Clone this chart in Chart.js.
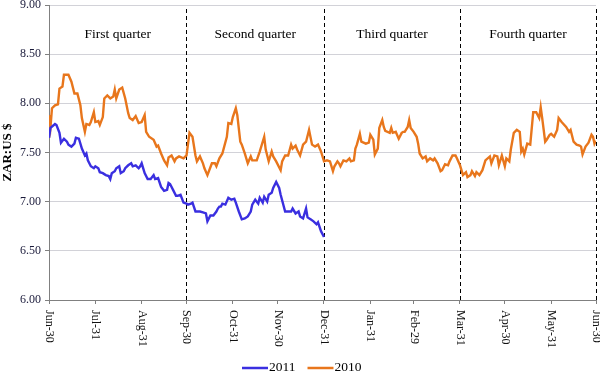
<!DOCTYPE html>
<html><head><meta charset="utf-8">
<script src="https://cdn.jsdelivr.net/npm/chart.js@4.4.1/dist/chart.umd.min.js"></script>
<style>html,body{margin:0;padding:0;background:#fff}#wrap{width:600px;height:373px}</style>
</head><body><div id="wrap"><canvas id="c" width="600" height="373"></canvas></div>
<script>
// X axis: days since Jun-30
const tickDays = [0,31,62,92,123,153,184,215,244,275,305,336,366];
const tickLabels = ['Jun-30','Jul-31','Aug-31','Sep-30','Oct-31','Nov-30','Dec-31','Jan-31','Feb-29','Mar-31','Apr-30','May-31','Jun-30'];
const quarterEnds = [92,184,275,366];
const quarterNames = ['First quarter','Second quarter','Third quarter','Fourth quarter'];
const seriesNames = ['2011','2010'];

const days2011 = [0,1,4,5,7,8,10,12,13,15,17,18,20,22,24,25,26,28,30,31,33,34,36,38,40,41,42,44,45,47,48,50,51,53,55,56,58,60,61,62,64,66,68,70,71,73,75,77,79,80,81,83,85,86,88,90,92,93,95,96,98,101,103,105,106,108,110,112,113,114,115,116,118,120,122,124,125,127,129,131,133,135,136,138,140,141,143,144,146,147,149,150,152,154,155,158,160,162,163,165,167,168,170,172,173,175,177,179,180,182,184];
const zar2011 = [7.65,7.75,7.79,7.78,7.70,7.60,7.64,7.61,7.58,7.56,7.59,7.65,7.64,7.54,7.47,7.49,7.42,7.36,7.34,7.36,7.34,7.30,7.29,7.27,7.26,7.23,7.29,7.31,7.34,7.36,7.29,7.31,7.34,7.37,7.39,7.36,7.37,7.34,7.36,7.39,7.29,7.23,7.23,7.27,7.23,7.24,7.15,7.11,7.12,7.19,7.18,7.12,7.06,7.06,7.07,6.99,6.98,6.97,6.98,6.99,6.90,6.90,6.89,6.88,6.80,6.86,6.86,6.90,6.93,6.95,6.95,6.98,6.97,7.04,7.02,7.03,6.99,6.90,6.82,6.83,6.85,6.90,6.97,7.02,6.98,7.04,6.99,7.05,7.00,7.07,7.09,7.14,7.20,7.14,7.07,6.90,6.90,6.90,6.93,6.88,6.90,6.85,6.83,6.93,6.84,6.82,6.80,6.77,6.79,6.70,6.64];

const days2010 = [0,1,2,4,6,7,9,10,13,15,17,19,21,22,24,25,27,28,30,31,33,34,36,37,39,41,43,44,45,47,49,51,53,54,56,58,60,62,64,65,67,70,72,73,75,77,79,80,82,84,85,87,90,92,94,96,98,99,101,103,104,106,109,111,112,114,116,119,120,122,123,125,126,128,129,131,133,135,136,139,141,144,145,147,149,150,152,155,156,158,160,162,163,165,166,168,170,172,174,176,178,180,182,184,186,188,190,191,193,194,195,197,199,201,202,204,205,206,208,209,212,214,215,217,218,220,221,223,224,225,228,229,230,232,234,236,237,238,240,241,242,244,246,247,248,250,252,253,255,257,258,260,262,263,265,267,268,270,272,273,275,277,279,280,282,283,285,286,288,290,292,295,296,298,300,301,303,305,306,308,309,311,313,315,316,317,318,320,322,324,326,328,329,330,332,333,335,336,338,340,341,343,346,348,349,351,353,355,356,357,359,361,363,364,365,366];
const zar2010 = [7.88,7.76,7.95,7.98,7.99,8.15,8.17,8.29,8.29,8.22,8.10,8.10,7.98,7.85,7.71,7.79,7.78,7.81,7.91,7.81,7.82,7.78,7.86,8.05,8.08,8.05,8.07,8.14,8.05,8.14,8.16,8.05,7.90,7.85,7.83,7.87,7.80,7.81,7.88,7.71,7.66,7.63,7.56,7.57,7.49,7.42,7.37,7.45,7.47,7.41,7.44,7.46,7.44,7.47,7.70,7.66,7.47,7.41,7.46,7.39,7.34,7.27,7.39,7.39,7.36,7.44,7.49,7.66,7.80,7.79,7.86,7.95,7.88,7.61,7.58,7.49,7.39,7.46,7.42,7.42,7.51,7.66,7.53,7.41,7.51,7.46,7.41,7.32,7.41,7.47,7.47,7.58,7.54,7.57,7.53,7.47,7.58,7.61,7.73,7.58,7.56,7.58,7.51,7.41,7.42,7.41,7.31,7.36,7.41,7.39,7.36,7.42,7.41,7.44,7.41,7.42,7.54,7.58,7.69,7.61,7.59,7.60,7.68,7.63,7.48,7.54,7.75,7.83,7.76,7.72,7.70,7.75,7.70,7.71,7.64,7.70,7.71,7.71,7.76,7.83,7.75,7.71,7.66,7.59,7.49,7.44,7.46,7.41,7.44,7.42,7.44,7.39,7.31,7.32,7.38,7.37,7.41,7.47,7.47,7.44,7.37,7.27,7.30,7.25,7.27,7.31,7.26,7.30,7.27,7.32,7.42,7.46,7.39,7.47,7.46,7.37,7.47,7.36,7.44,7.41,7.53,7.70,7.73,7.71,7.51,7.54,7.48,7.59,7.58,7.91,7.91,7.85,7.96,7.85,7.61,7.63,7.68,7.69,7.66,7.73,7.85,7.81,7.76,7.71,7.73,7.61,7.58,7.57,7.56,7.48,7.56,7.60,7.68,7.66,7.59,7.62];

const yMin = 6, yMax = 9, yStep = 0.5;
const COL2011 = '#3a2fe0', COL2010 = '#e8761c';
const SERIF = '"Liberation Serif", "Times New Roman", serif';

const toPts = (xs, ys) => xs.map((d, i) => ({x: d, y: ys[i]}));

const overlay = {
  id: 'overlay',
  beforeDatasetsDraw(chart) {
    const {ctx, chartArea, scales: {x}} = chart;
    ctx.save();
    ctx.strokeStyle = '#000';
    ctx.lineWidth = 1;
    ctx.setLineDash([4, 3]);
    quarterEnds.forEach(d => {
      const px = Math.round(x.getPixelForValue(d)) + 0.5;
      ctx.beginPath();
      ctx.moveTo(px, chartArea.top + 4);
      ctx.lineTo(px, chartArea.bottom);
      ctx.stroke();
    });
    ctx.restore();
  },
  afterDraw(chart) {
    const {ctx, chartArea, scales: {x}} = chart;
    ctx.save();
    // rotated x tick labels (reading downward)
    ctx.fillStyle = '#111';
    ctx.font = '12px ' + SERIF;
    ctx.textAlign = 'left';
    ctx.textBaseline = 'middle';
    tickDays.forEach((d, i) => {
      const px = x.getPixelForValue(d);
      ctx.save();
      ctx.translate(px, chartArea.bottom + 10);
      ctx.rotate(Math.PI / 2);
      ctx.fillText(tickLabels[i], 0, 0);
      ctx.restore();
    });
    // quarter labels
    ctx.font = '13.5px ' + SERIF;
    ctx.textAlign = 'center';
    ctx.fillStyle = '#000';
    quarterNames.forEach((q, i) => {
      const start = i === 0 ? 0 : quarterEnds[i - 1];
      const mid = (start + quarterEnds[i]) / 2;
      ctx.fillText(q, x.getPixelForValue(mid), chartArea.top + 29);
    });
    // legend
    ctx.font = '13.5px ' + SERIF;
    ctx.textAlign = 'left';
    let lx = 242;
    const ly = 367;
    chart.data.datasets.forEach(ds => {
      ctx.strokeStyle = ds.borderColor;
      ctx.lineWidth = 2.5;
      ctx.setLineDash([]);
      ctx.beginPath();
      ctx.moveTo(lx, ly + 1);
      ctx.lineTo(lx + 26, ly + 1);
      ctx.stroke();
      ctx.fillStyle = '#000';
      ctx.fillText(ds.label, lx + 27, ly);
      lx += 27 + ctx.measureText(ds.label).width + 12;
    });
    ctx.restore();
  }
};

new Chart(document.getElementById('c'), {
  type: 'line',
  data: {
    datasets: [
      {label: seriesNames[0], data: toPts(days2011, zar2011), borderColor: COL2011, backgroundColor: COL2011, borderWidth: 2.4, pointRadius: 0, tension: 0},
      {label: seriesNames[1], data: toPts(days2010, zar2010), borderColor: COL2010, backgroundColor: COL2010, borderWidth: 2.4, pointRadius: 0, tension: 0}
    ]
  },
  options: {
    responsive: false,
    animation: false,
    devicePixelRatio: 1,
    layout: {padding: {left: 0, right: 4, top: 5, bottom: 0}},
    plugins: {legend: {display: false}, tooltip: {enabled: false}},
    scales: {
      x: {
        type: 'linear', min: tickDays[0], max: tickDays[tickDays.length - 1],
        afterBuildTicks: s => { s.ticks = tickDays.map(v => ({value: v})); },
        afterFit: s => { s.height = 73; },
        ticks: {display: false},
        grid: {drawOnChartArea: false, drawTicks: true, tickLength: 4, color: '#808080'},
        border: {color: '#808080', width: 1}
      },
      y: {
        min: yMin, max: yMax,
        afterFit: s => { s.width = 49; },
        ticks: {stepSize: yStep, callback: v => v.toFixed(2), color: '#1a1a3a', padding: 4,
                font: {family: SERIF, size: 12, lineHeight: 0.1}},
        grid: {color: '#d2d2d8', tickColor: '#808080', tickLength: 4, drawTicks: true},
        border: {color: '#808080', width: 1},
        title: {display: true, text: 'ZAR:US $', color: '#000', padding: {top: 0, bottom: 0},
                font: {family: SERIF, size: 13, weight: 'bold'}}
      }
    }
  },
  plugins: [overlay]
});
</script>
</body></html>
